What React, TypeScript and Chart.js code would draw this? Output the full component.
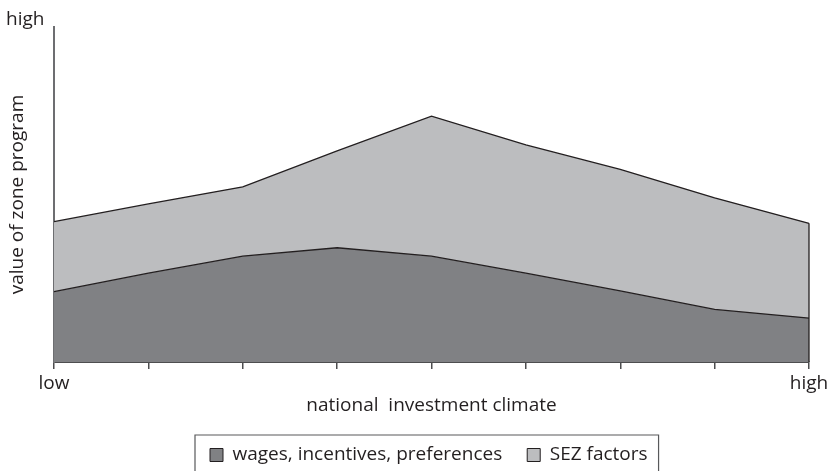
import React, { useEffect, useRef } from "react";
import { Chart, registerables } from "chart.js";

Chart.register(...registerables);

const categories = ["low", "", "", "", "", "", "", "", "high"];
const wagesIncentives = [21.0, 26.5, 31.6, 34.1, 31.6, 26.5, 21.2, 15.7, 13.1];
const sezFactors = [20.9, 20.7, 20.7, 28.9, 41.8, 38.3, 36.3, 33.3, 28.3];
const seriesNames = ["wages, incentives, preferences", "SEZ factors"];
const yTopLabel = "high";
const xTitle = "national  investment climate";
const yTitle = "value of zone program";

const FONT = "'Open Sans', 'Liberation Sans', sans-serif";
const FS = 19;
const TEXT = "#231f20";
const DARK = "#808184";
const LIGHT = "#bcbdbf";

const LEGEND_LEFT = 210;
const LEGEND_ITEM_TOP = 445.5;

const decorPlugin = {
  id: "decor",
  afterUpdate(chart: any) {
    const lg = chart.legend;
    if (!lg || !lg.legendHitBoxes || !lg.legendHitBoxes.length) return;
    const hb = lg.legendHitBoxes;
    const dx = LEGEND_LEFT - hb[0].left;
    const dy = LEGEND_ITEM_TOP - hb[0].top;
    lg._shift = { dx, dy };
    if (!lg._wrapped) {
      const orig = lg.draw.bind(lg);
      lg.draw = function () {
        const c = this.ctx;
        const s = this._shift || { dx: 0, dy: 0 };
        c.save();
        c.translate(s.dx, s.dy);
        orig();
        c.restore();
      };
      lg._wrapped = true;
    }
  },
  afterDraw(chart: any) {
    const { ctx, chartArea, scales } = chart;
    ctx.save();
    // right edge of the stacked area
    const last = categories.length - 1;
    const x = scales.x.getPixelForValue(last);
    const yTop = scales.y.getPixelForValue(wagesIncentives[last] + sezFactors[last]);
    ctx.strokeStyle = TEXT;
    ctx.lineWidth = 1.3;
    ctx.beginPath();
    ctx.moveTo(x, yTop);
    ctx.lineTo(x, chartArea.bottom);
    ctx.stroke();
    // "high" label at top of y axis
    ctx.fillStyle = TEXT;
    ctx.font = `${FS}px ${FONT}`;
    ctx.textAlign = "left";
    ctx.textBaseline = "alphabetic";
    ctx.fillText(yTopLabel, 6, chartArea.top - 2);
    // legend border
    const lg = chart.legend;
    const hb = lg && lg.legendHitBoxes;
    if (hb && hb.length) {
      const s = lg._shift || { dx: 0, dy: 0 };
      const l = hb[0].left + s.dx - 15;
      const r = hb[hb.length - 1].left + hb[hb.length - 1].width + s.dx + 11;
      const t = hb[0].top + s.dy - 10.5;
      ctx.strokeStyle = "#58595b";
      ctx.lineWidth = 1.2;
      ctx.beginPath();
      ctx.moveTo(l, chart.height + 5);
      ctx.lineTo(l, t);
      ctx.lineTo(r, t);
      ctx.lineTo(r, chart.height + 5);
      ctx.stroke();
    }
    ctx.restore();
  },
};

export default function App() {
  const ref = useRef<HTMLCanvasElement | null>(null);
  useEffect(() => {
    if (!ref.current) return;
    const chart = new Chart(ref.current, {
      type: "line",
      data: {
        labels: categories,
        datasets: [
          {
            label: seriesNames[0],
            data: wagesIncentives,
            backgroundColor: DARK,
            borderColor: TEXT,
            borderWidth: 1.3,
            fill: "origin",
            pointRadius: 0,
            tension: 0,
          },
          {
            label: seriesNames[1],
            data: sezFactors,
            backgroundColor: LIGHT,
            borderColor: TEXT,
            borderWidth: 1.3,
            fill: "-1",
            pointRadius: 0,
            tension: 0,
          },
        ],
      },
      options: {
        animation: false,
        responsive: false,
        maintainAspectRatio: false,
        devicePixelRatio: 1,
        layout: { padding: { left: 0, top: 27, right: 24, bottom: 0 } },
        plugins: {
          legend: {
            position: "bottom",
            labels: {
              font: { family: FONT, size: FS },
              color: TEXT,
              boxWidth: 13,
              boxHeight: 13,
              padding: 25,
              generateLabels: (chart: any) =>
                chart.data.datasets.map((d: any, i: number) => ({
                  text: d.label,
                  fillStyle: d.backgroundColor,
                  strokeStyle: TEXT,
                  lineWidth: 1,
                  fontColor: TEXT,
                  hidden: false,
                  datasetIndex: i,
                })),
            },
          },
          tooltip: { enabled: false },
        },
        scales: {
          x: {
            type: "category",
            offset: false,
            afterFit: (scale: any) => {
              scale.height = 55;
            },
            grid: {
              drawOnChartArea: false,
              drawTicks: true,
              tickLength: 7,
              color: "#4d4d4f",
              lineWidth: 1.5,
            },
            border: { display: true, color: "#4d4d4f", width: 2 },
            ticks: {
              autoSkip: false,
              maxRotation: 0,
              padding: 3.6,
              color: TEXT,
              font: { family: FONT, size: FS },
            },
            title: {
              display: true,
              text: xTitle,
              color: TEXT,
              font: { family: FONT, size: FS },
              padding: { top: 0, bottom: 0 },
            },
          },
          y: {
            stacked: true,
            min: 0,
            max: 100,
            afterFit: (scale: any) => {
              scale.width = 54;
            },
            grid: { display: false },
            border: { display: true, color: "#6d6e71", width: 2 },
            ticks: { display: false },
            title: {
              display: true,
              text: yTitle,
              color: TEXT,
              font: { family: FONT, size: FS },
              padding: { top: 6.6, bottom: 0 },
            },
          },
        },
      },
      plugins: [decorPlugin],
    });
    return () => chart.destroy();
  }, []);
  return (
    <div style={{ position: "absolute", left: 0, top: 0, width: 833, height: 471, background: "#fff" }}>
      <canvas ref={ref} width={833} height={471} />
    </div>
  );
}
